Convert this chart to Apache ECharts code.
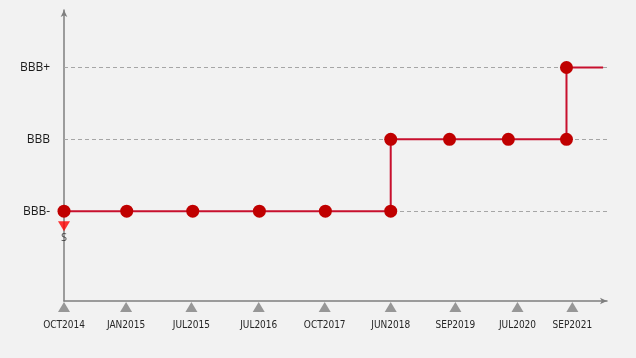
<!DOCTYPE html>
<html>
<head>
<meta charset="utf-8">
<script src="https://cdn.jsdelivr.net/npm/echarts@6/dist/echarts.min.js"></script>
<style>
html,body{margin:0;padding:0;background:#f2f2f2;}
#chart{width:636px;height:358px;}
</style>
</head>
<body>
<div id="chart"></div>
<script>
// Tick labels on the time axis and their (visual) positions
const dateLabels = ['OCT2014','JAN2015','JUL2015','JUL2016','OCT2017','JUN2018','SEP2019','JUL2020','SEP2021'];
const labelPos = [0, 0.95, 1.95, 2.98, 3.99, 5.0, 5.99, 6.94, 7.78];
// Rating levels (y axis)
const ratingLevels = ['BBB-', 'BBB', 'BBB+'];
// Rating path (positions along the time axis and rating at each point)
const ratingPos = [0, 0.96, 1.97, 2.99, 4.0, 5.0, 5.0, 5.9, 6.8, 7.69, 7.69, 8.25];
const ratingVals = ['BBB-','BBB-','BBB-','BBB-','BBB-','BBB-','BBB','BBB','BBB','BBB','BBB+','BBB+'];
// Outlook marker (S = stable) at the first point
const outlookPos = [0];
const outlookVal = [0.79];
const outlookText = ['S'];

const lvl = r => ratingLevels.indexOf(r) + 1;
const yMin = -0.25, yMax = 3.8;

const lineData = ratingPos.map((p, i) => {
  const item = { value: [p, lvl(ratingVals[i])] };
  if (i === ratingPos.length - 1) item.symbol = 'none';
  return item;
});

const chart = echarts.init(document.getElementById('chart'));
chart.setOption({
  backgroundColor: '#f2f2f2',
  animation: false,
  grid: { left: 64, right: 29, top: 10, bottom: 57 },
  xAxis: {
    type: 'value', min: 0, max: 8.31,
    axisLine: { show: true, onZero: false, symbol: ['none', 'arrow'], symbolSize: [5, 7],
      lineStyle: { color: '#7f7f7f', width: 1.5 } },
    axisTick: { show: false },
    splitLine: { show: false },
    axisLabel: {
      customValues: labelPos,
      margin: 19,
      formatter: v => { const i = labelPos.indexOf(v); return i >= 0 ? dateLabels[i] : ''; },
      fontFamily: '"DejaVu Sans Condensed", "Liberation Sans Narrow", "Liberation Sans", sans-serif',
      fontSize: 10, color: '#262626'
    }
  },
  yAxis: {
    type: 'value', min: yMin, max: yMax,
    axisLine: { show: true, onZero: false, symbol: ['none', 'arrow'], symbolSize: [5, 7],
      lineStyle: { color: '#7f7f7f', width: 1.5 } },
    axisTick: { show: false },
    splitLine: { show: false },
    axisLabel: {
      customValues: [1, 2, 3],
      margin: 14,
      formatter: v => ratingLevels[Math.round(v) - 1] || '',
      fontFamily: '"Open Sans", sans-serif',
      fontSize: 12, color: '#1a1a1a'
    }
  },
  series: [
    {
      type: 'line', data: [], z: 1, silent: true,
      markLine: {
        silent: true, symbol: 'none', label: { show: false },
        lineStyle: { color: '#a6a6a6', type: [4, 3], width: 1 },
        data: [{ yAxis: 1 }, { yAxis: 2 }, { yAxis: 3 }]
      }
    },
    {
      type: 'line', data: lineData, z: 5,
      symbol: 'circle', symbolSize: 13, showAllSymbol: true,
      lineStyle: { color: '#c8102e', width: 2 },
      itemStyle: { color: '#c00000' }
    },
    {
      type: 'scatter', clip: false, z: 4,
      data: labelPos.map(p => [p, yMin]),
      symbol: 'triangle', symbolSize: [12, 10], symbolOffset: [0, 6],
      itemStyle: { color: '#7f7f7f' }
    },
    {
      type: 'scatter', clip: false, z: 4,
      data: outlookPos.map((p, i) => [p, outlookVal[i]]),
      symbol: 'triangle', symbolRotate: 180, symbolSize: [12, 10],
      itemStyle: { color: '#ff0000' },
      label: { show: true, position: 'bottom', distance: 1,
        formatter: p => outlookText[p.dataIndex],
        fontFamily: '"Open Sans", sans-serif', fontSize: 11, color: '#262626' }
    }
  ]
});
</script>
</body>
</html>
